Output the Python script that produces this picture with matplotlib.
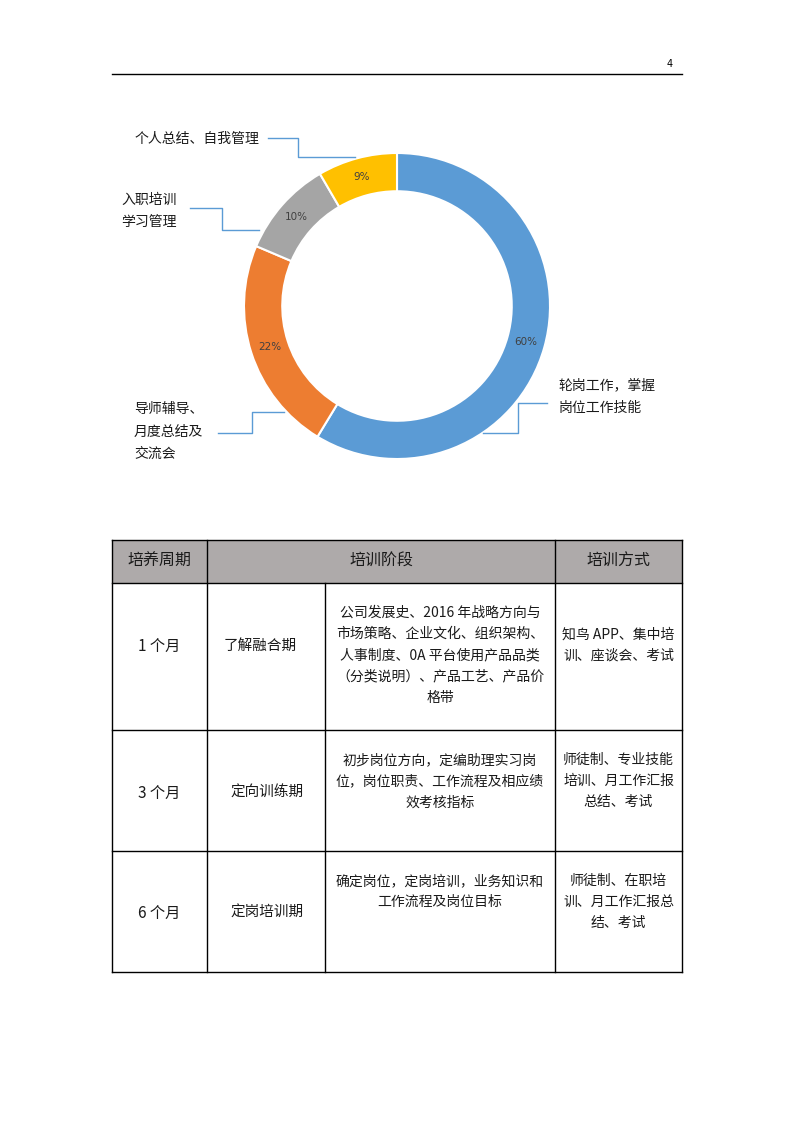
import numpy as np
import matplotlib.pyplot as plt

plt.rcParams['font.family'] = ['Noto Sans CJK SC', 'DejaVu Sans']

categories = ['轮岗工作，掌握\n岗位工作技能', '导师辅导、\n月度总结及\n交流会', '入职培训\n学习管理', '个人总结、自我管理']
shares = [58.7, 22.7, 10.2, 8.4]
pct_labels = ['60%', '22%', '10%', '9%']
colors = ['#5B9BD5', '#ED7D31', '#A5A5A5', '#FFC000']

# table data
header = ['培养周期', '培训阶段', '培训方式']
periods = ['1 个月', '3 个月', '6 个月']
stages = ['了解融合期', '定向训练期', '定岗培训期']
contents = [
    ['公司发展史、2016 年战略方向与', '市场策略、企业文化、组织架构、', '人事制度、0A 平台使用产品品类',
     '（分类说明）、产品工艺、产品价', '格带'],
    ['初步岗位方向，定编助理实习岗', '位，岗位职责、工作流程及相应绩', '效考核指标'],
    ['确定岗位，定岗培训，业务知识和', '工作流程及岗位目标'],
]
methods = [
    ['知鸟 APP、集中培', '训、座谈会、考试'],
    ['师徒制、专业技能', '培训、月工作汇报', '总结、考试'],
    ['师徒制、在职培', '训、月工作汇报总', '结、考试'],
]

W, H = 794, 1123
fig = plt.figure(figsize=(W / 100, H / 100), dpi=100)

# donut chart, centre (397, 306) px, radius 153 px
cx, cy, R = 397, 306, 153
pax = fig.add_axes([(cx - R) / W, (H - cy - R) / H, 2 * R / W, 2 * R / H])
wedges, _ = pax.pie(shares, colors=colors, startangle=90, counterclock=False,
                    radius=1, wedgeprops=dict(width=0.25, edgecolor='white', linewidth=1.5))
pax.set_xlim(-1, 1)
pax.set_ylim(-1, 1)
pax.set_aspect('equal')
pax.axis('off')
for w, lab in zip(wedges, pct_labels):
    ang = np.deg2rad((w.theta1 + w.theta2) / 2)
    pax.text(0.875 * np.cos(ang), 0.875 * np.sin(ang), lab, ha='center', va='center',
             fontsize=7.5, color='#404040', family=['DejaVu Sans'])

# overlay in pixel coordinates
ax = fig.add_axes([0, 0, 1, 1])
ax.set_xlim(0, W)
ax.set_ylim(H, 0)
ax.axis('off')
ax.patch.set_alpha(0)

# page header
ax.plot([112, 682], [74, 74], color='black', lw=1)
ax.text(670, 64, '4', ha='center', va='center', fontsize=7, family=['DejaVu Sans'])

# leader lines and category labels
lc = '#5B9BD5'
ax.plot([547, 518, 518, 483], [403, 403, 433, 433], color=lc, lw=1)
ax.plot([218, 252, 252, 284], [433, 433, 412, 412], color=lc, lw=1)
ax.plot([190, 222, 222, 259], [208, 208, 230, 230], color=lc, lw=1)
ax.plot([268, 298, 298, 355], [138, 138, 157, 157], color=lc, lw=1)

label_pos = [(558, 385), (134, 409), (121, 200), (135, 139)]
for txt, (x, y) in zip(categories, label_pos):
    for i, line in enumerate(txt.split('\n')):
        ax.text(x, y + i * 22.5, line, ha='left', va='center', fontsize=10, color='#1a1a1a')

# table
xs = [112, 207, 325, 555, 682]
ys = [540, 583, 730, 851, 972]
ax.add_patch(plt.Rectangle((xs[0], ys[0]), xs[-1] - xs[0], ys[1] - ys[0],
                           facecolor='#AEAAAA', edgecolor='none'))
for y in ys:
    ax.plot([xs[0], xs[-1]], [y, y], color='black', lw=1)
for x in [xs[0], xs[1], xs[3], xs[4]]:
    ax.plot([x, x], [ys[0], ys[-1]], color='black', lw=1)
ax.plot([xs[2], xs[2]], [ys[1], ys[-1]], color='black', lw=1)

hy = (ys[0] + ys[1]) / 2
ax.text((xs[0] + xs[1]) / 2, hy, header[0], ha='center', va='center', fontsize=11.5, color='#1a1a1a')
ax.text((xs[1] + xs[3]) / 2, hy, header[1], ha='center', va='center', fontsize=11.5, color='#1a1a1a')
ax.text((xs[3] + xs[4]) / 2, hy, header[2], ha='center', va='center', fontsize=11.5, color='#1a1a1a')

row_mid = [646, 793, 913]
stage_x = [260, 267, 267]
content_top = [613, 760, 881]
method_top = [635, 760, 881]
for r in range(3):
    ax.text((xs[0] + xs[1]) / 2, row_mid[r], periods[r], ha='center', va='center', fontsize=11, color='#1a1a1a')
    ax.text(stage_x[r], row_mid[r], stages[r], ha='center', va='center', fontsize=10.5, color='#1a1a1a')
    for i, line in enumerate(contents[r]):
        ax.text((xs[2] + xs[3]) / 2, content_top[r] + i * 21.2, line, ha='center', va='center',
                fontsize=10, color='#1a1a1a')
    for i, line in enumerate(methods[r]):
        ax.text((xs[3] + xs[4]) / 2, method_top[r] + i * 21, line, ha='center', va='center',
                fontsize=10, color='#1a1a1a')

fig.savefig('out.png', dpi=100)
